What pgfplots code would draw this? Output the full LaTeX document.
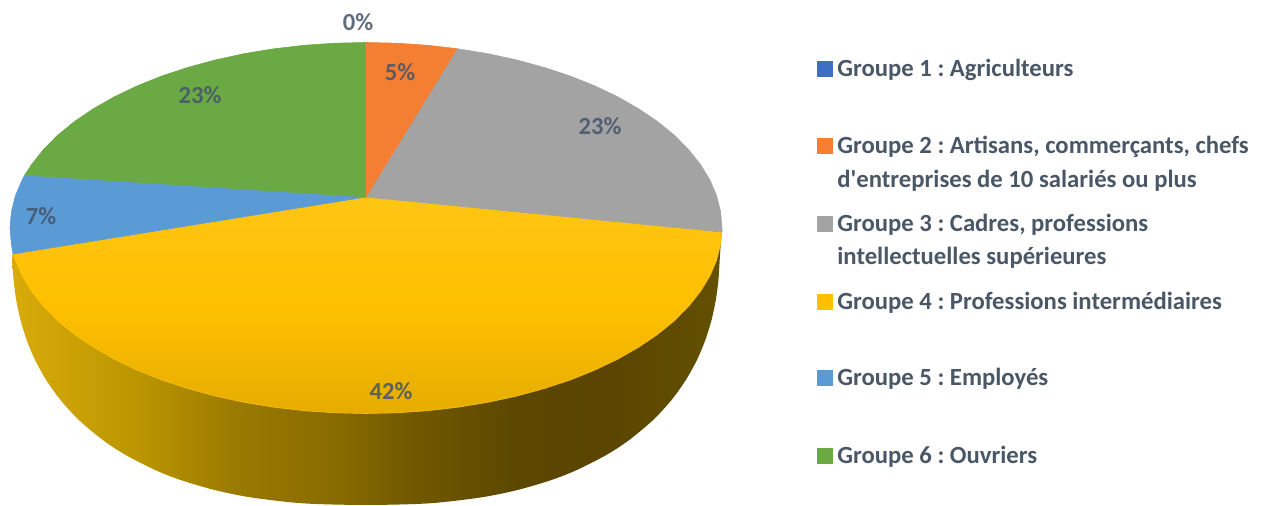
\documentclass[border=0pt]{standalone}
\usepackage{pgfplots}
\pgfplotsset{compat=1.18}
\usepackage{fontspec}
\setmainfont[Ligatures=ResetAll]{Carlito}
\frenchspacing
\definecolor{txt}{HTML}{4A5766}
\definecolor{lab}{HTML}{44546A}
\definecolor{g1}{HTML}{3F6FC0}
\definecolor{g2}{HTML}{F47F32}
\definecolor{g3}{HTML}{A3A3A3}
\definecolor{g4}{HTML}{FFC000}
\definecolor{g5}{HTML}{5B9BD5}
\definecolor{g6}{HTML}{6BA944}
% side of the pie, path box maps to 25bp..75bp
\pgfdeclarehorizontalshading{yellowside}{100bp}{
  rgb(0bp)=(.85,.67,.04);
  rgb(25bp)=(.85,.67,.04);
  rgb(34bp)=(.73,.585,0);
  rgb(40.7bp)=(.605,.48,0);
  rgb(47.2bp)=(.54,.425,0);
  rgb(53.9bp)=(.435,.34,0);
  rgb(60.5bp)=(.36,.28,0);
  rgb(67bp)=(.355,.27,0);
  rgb(75bp)=(.39,.315,0);
  rgb(100bp)=(.39,.315,0)}
\newcommand{\pct}[3]{\node[font=\fontsize{12.3}{14}\selectfont\bfseries,text=lab,text opacity=.85] at (axis cs:#1,#2) {#3};}
\newcommand{\leg}[2]{\node[anchor=base west,font=\fontsize{12.35}{14}\selectfont\bfseries,text=txt,inner sep=0pt] at (axis cs:837,#1) {#2};}
\newcommand{\key}[3]{\addplot[only marks,mark=square*,mark size=3.8pt,mark options={draw=#1,fill=#1}] coordinates {(#2,#3)};}
\begin{document}
\begin{tikzpicture}
\begin{axis}[
  x=0.5pt,y=0.5pt,
  xmin=0,xmax=1261,ymin=0,ymax=506,
  y dir=reverse,
  hide axis,
  clip=false,
]
\path (axis cs:0,0) rectangle (axis cs:1261,506);
% side wall
\addplot[draw=none,shading=yellowside,smooth,tension=0.5] coordinates {
  (13,254) (12.3,260) (13.6,280) (16.2,300) (20.5,320) (26.7,340) (35.1,360)
  (46.2,380) (60.5,400) (78.9,420) (102.8,440) (125.7,455) (155.2,470)
  (180.6,480) (214.5,490) (248.4,497) (287.6,502) (316,504) (366,505)
  (416,504) (444.4,502) (483.6,497) (517.5,490) (551.4,480) (576.8,470)
  (606.3,455) (629.2,440) (653.1,420) (671.5,400) (685.8,380) (696.9,360)
  (705.3,340) (711.5,320) (715.8,300) (718.4,280) (719.7,260) (721,240) (722,232)} -- cycle;
% yellow
\addplot[draw=g4,line width=0.3pt,top color=g4!92!white,bottom color=g4!90!black,middle color=g4] coordinates {
  (366,197) (722,232) (720.6,244.2) (716.6,260.2) (709.9,276) (700.5,291.4)
  (688.6,306.4) (674.3,320.8) (657.6,334.4) (638.7,347.2) (617.7,359.2)
  (594.8,370.1) (570.2,380) (544,388.6) (516.5,396.1) (487.8,402.3)
  (458.1,407.2) (427.8,410.7) (397,412.8) (366,413.5) (335,412.8) (304.2,410.7)
  (273.9,407.2) (244.2,402.3) (215.5,396.1) (188,388.6) (161.8,380) (137.2,370.1)
  (114.3,359.2) (93.3,347.2) (74.4,334.4) (57.7,320.8) (43.4,306.4) (31.5,291.4)
  (22.1,276) (15.4,260.2) (13,254)} -- cycle;
% gray
\addplot[draw=g3,line width=0.3pt,fill=g3] coordinates {
  (366,197) (456.9,48.7) (487.8,53.7) (516.5,59.9) (544,67.4) (570.2,76)
  (594.8,85.9) (617.7,96.8) (638.7,108.8) (657.6,121.6) (674.3,135.2)
  (688.6,149.6) (700.5,164.6) (709.9,180) (716.6,195.8) (720.6,211.8)
  (722,228) (722,232)} -- cycle;
% blue
\addplot[draw=g5,line width=0.3pt,fill=g5] coordinates {
  (366,197) (13,254) (11.4,244.2) (10,228) (11.4,211.8) (15.4,195.8)
  (22.1,180) (24.8,175)} -- cycle;
% green
\addplot[draw=g6,line width=0.3pt,fill=g6] coordinates {
  (366,197) (24.8,175) (31.5,164.6) (43.4,149.6) (57.7,135.2) (74.4,121.6)
  (93.3,108.8) (114.3,96.8) (137.2,85.9) (161.8,76) (188,67.4) (215.5,59.9)
  (244.2,53.7) (273.9,48.8) (304.2,45.3) (335,43.2) (366,42.5)} -- cycle;
% orange
\addplot[draw=g2,line width=0.3pt,fill=g2] coordinates {
  (366,197) (366,42.5) (397,43.2) (427.8,45.3) (456.9,48.7)} -- cycle;
% percent labels
\pct{358}{22}{0\%}
\pct{400}{72}{5\%}
\pct{600}{126}{23\%}
\pct{200}{95}{23\%}
\pct{41}{216}{7\%}
\pct{391}{391}{42\%}
% legend keys
\key{g1}{825}{69}
\key{g2}{825}{146}
\key{g3}{825}{224}
\key{g4}{825}{302}
\key{g5}{825}{378}
\key{g6}{825}{456}
\leg{77}{Groupe 1 : Agriculteurs}
\leg{154}{Groupe 2 : Artisans, commerçants, chefs}
\leg{188}{d\textquotesingle entreprises de 10 salariés ou plus}
\leg{232}{Groupe 3 : Cadres, professions}
\leg{265}{intellectuelles supérieures}
\leg{310}{Groupe 4 : Professions intermédiaires}
\leg{386}{Groupe 5 : Employés}
\leg{464}{Groupe 6 : Ouvriers}
\end{axis}
\end{tikzpicture}
\end{document}
